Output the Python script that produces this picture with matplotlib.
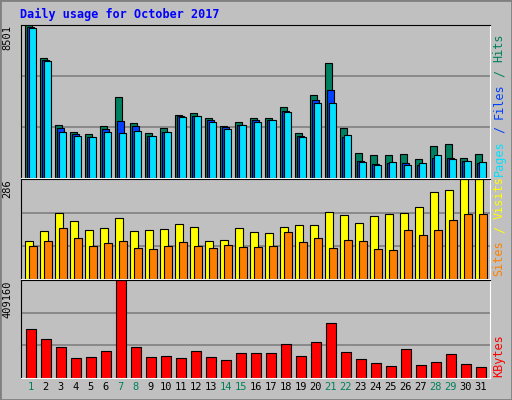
import matplotlib
matplotlib.use("Agg")
import matplotlib.pyplot as plt
from matplotlib.patches import Rectangle

days = list(range(1, 32))
weekends = [1, 7, 8, 14, 15, 21, 22, 28, 29]

hits = [8501, 6704, 2937, 2589, 2473, 2879, 4502, 3053, 2531, 2763, 3516, 3632, 3342, 2879, 3110, 3342,
        3342, 3980, 2531, 4618, 6414, 2763, 1372, 1256, 1256, 1314, 1082, 1777, 1893, 1140, 1314]
files = [8424, 6550, 2763, 2473, 2299, 2705, 3169, 2879, 2357, 2589, 3458, 3458, 3226, 2821, 2937, 3226,
         3226, 3748, 2357, 4328, 4907, 2299, 966, 792, 850, 850, 734, 1140, 1140, 966, 850]
pages = [8385, 6530, 2589, 2357, 2299, 2589, 2531, 2647, 2357, 2589, 3400, 3458, 3110, 2705, 2937, 3110,
         3226, 3690, 2299, 4154, 4154, 2415, 908, 734, 908, 734, 850, 1256, 1082, 966, 908]
visits = [109, 137, 190, 168, 140, 146, 174, 137, 140, 143, 159, 149, 109, 112, 146, 134,
          131, 149, 155, 155, 193, 183, 162, 180, 187, 190, 208, 249, 255, 286, 286]
sites = [96, 109, 146, 118, 96, 103, 109, 90, 87, 96, 106, 96, 90, 99, 93, 93,
         96, 134, 106, 118, 90, 112, 109, 87, 84, 140, 127, 140, 171, 187, 187]
kbytes = [206700, 161800, 130300, 85400, 89900, 112400, 409160, 130300, 89900, 94400, 85400, 112400,
          89900, 76400, 103400, 103400, 103400, 143800, 94400, 152800, 229200, 107900, 80900, 62900,
          49400, 121300, 53900, 67400, 98900, 58400, 44900]

BG = "#c0c0c0"
GREEN = "#00805c"
W, H = 512, 400
MONO = "DejaVu Sans Mono"
FS = 8.5
CHAR_PX = 0.602 * FS * 100 / 72  # monospace advance in pixels

fig = plt.figure(figsize=(W / 100, H / 100), dpi=100, facecolor=BG)
fig.patches.append(Rectangle((0, 0), 1, 1, transform=fig.transFigure, fill=False,
                             edgecolor="#808080", linewidth=2))


def make_ax(top, bottom):
    ax = fig.add_axes([20.7 / W, 1 - bottom / H, (490 - 20.7) / W, (bottom - top) / H])
    ax.set_facecolor(BG)
    ax.set_xlim(0.33, 31.61)
    ax.set_xticks([])
    ax.set_yticks([])
    for s in ["top", "left"]:
        ax.spines[s].set_color("black")
    for s in ["bottom", "right"]:
        ax.spines[s].set_color("white")
    return ax


def grid(ax, vmax):
    ax.set_ylim(0, vmax * 1.005)
    for f in (1 / 3, 2 / 3):
        ax.axhline(vmax * f, color="#808080", linewidth=1.2, zorder=0)
    ax.text(-0.028, 1.0, str(vmax), transform=ax.transAxes, rotation=90, ha="center",
            va="top", fontsize=7.5, family=MONO)


def side_label(bottom_px, parts):
    # parts read bottom to top, placed one monospace cell after another
    pos = 0
    for word, color in parts:
        if word.strip():
            lead = len(word) - len(word.lstrip())
            fig.text(499 / W, 1 - (bottom_px - (pos + lead) * CHAR_PX) / H, word.strip(),
                     rotation=90, ha="center", va="bottom", fontsize=FS, family=MONO, color=color)
        pos += len(word)


kw = dict(edgecolor="black", linewidth=0.8)

ax1 = make_ax(24.7, 178)
grid(ax1, max(hits))
bw = 0.47
ax1.bar([d - 0.13 for d in days], hits, bw, color="#008060", **kw)
ax1.bar(days, files, bw, color="#0040ff", **kw)
ax1.bar([d + 0.13 for d in days], pages, bw, color="#00e0ff", **kw)

ax2 = make_ax(179, 279)
grid(ax2, max(visits))
ax2.bar([d - 0.13 for d in days], visits, 0.53, color="#ffff00", **kw)
ax2.bar([d + 0.13 for d in days], sites, 0.53, color="#ff8000", **kw)

ax3 = make_ax(280, 378)
grid(ax3, max(kbytes))
ax3.bar(days, kbytes, 0.66, color="#ff0000", **kw)

for d in days:
    ax3.text(d, -0.09, str(d), transform=ax3.get_xaxis_transform(), ha="center", va="center",
             fontsize=7.5, family=MONO, color=GREEN if d in weekends else "black")

side_label(176, [("Pages", "#00e0ff"), (" / ", "#0040ff"), ("Files", "#0040ff"),
                 (" / ", GREEN), ("Hits", GREEN)])
side_label(276, [("Sites", "#ff8000"), (" / ", "#ffff00"), ("Visits", "#ffff00")])
side_label(377, [("KBytes", "#ff0000")])

fig.text(20 / W, 1 - 14 / H, "Daily usage for October 2017", ha="left", va="center",
         fontsize=8.5, family=MONO, weight="bold", color="#0000ff")

fig.savefig("out.png", dpi=100, facecolor=BG)
